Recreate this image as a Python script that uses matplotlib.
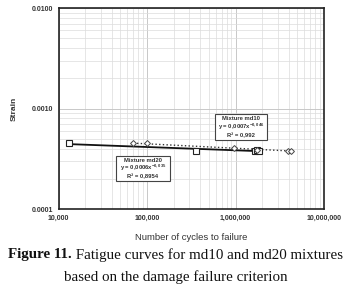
import numpy as np
import matplotlib
matplotlib.use("Agg")
import matplotlib.pyplot as plt
from matplotlib.patches import Rectangle
from matplotlib.ticker import FuncFormatter, LogLocator

plt.rcParams["font.family"] = ["Liberation Sans", "DejaVu Sans"]
plt.rcParams["mathtext.fontset"] = "custom"
plt.rcParams["mathtext.rm"] = "Liberation Sans:bold"
plt.rcParams["mathtext.it"] = "Liberation Sans:bold"
plt.rcParams["mathtext.bf"] = "Liberation Sans:bold"

# fatigue data
md10_cycles = [70000, 100000, 950000, 1750000, 3900000, 4200000]
md10_strain = [0.00045, 0.00045, 0.000405, 0.00039, 0.00038, 0.00038]
md20_cycles = [13000, 360000, 1650000, 1750000, 1850000]
md20_strain = [0.00045, 0.00038, 0.00038, 0.000385, 0.00038]

md10_lines = ["Mixture md10", "y = 0,0007x$^{\\mathrm{-0,046}}$", "R² = 0,992"]
md20_lines = ["Mixture md20", "y = 0,0006x$^{\\mathrm{-0,035}}$", "R² = 0,8954"]

txt = "#333333"

fig = plt.figure(figsize=(3.51, 2.90), dpi=100)
ax = fig.add_axes([0.167, 0.279, 0.756, 0.693])

ax.set_xscale("log")
ax.set_yscale("log")
ax.set_xlim(1e4, 1e7)
ax.set_ylim(1e-4, 1e-2)

ax.xaxis.set_major_locator(LogLocator(base=10))
ax.yaxis.set_major_locator(LogLocator(base=10))
ax.xaxis.set_minor_locator(LogLocator(base=10, subs=np.arange(2, 10)))
ax.yaxis.set_minor_locator(LogLocator(base=10, subs=np.arange(2, 10)))
ax.grid(True, which="major", color="#c8c8c8", linewidth=0.7)
ax.grid(True, which="minor", color="#dcdcdc", linewidth=0.5)
ax.set_axisbelow(True)

ax.xaxis.set_major_formatter(FuncFormatter(lambda v, p: f"{v:,.0f}"))
ax.yaxis.set_major_formatter(FuncFormatter(lambda v, p: f"{v:.4f}"))
ax.tick_params(which="both", length=0, labelsize=5, colors=txt, pad=4)
for lab in ax.get_xticklabels() + ax.get_yticklabels():
    lab.set_fontweight("bold")

for s in ax.spines.values():
    s.set_linewidth(1.2)
    s.set_color("#222222")

# power-law trendlines fitted in log space
def trend(cyc, strain):
    b, a = np.polyfit(np.log10(cyc), np.log10(strain), 1)
    xs = np.array([min(cyc), max(cyc)])
    return xs, 10 ** (a + b * np.log10(xs))

x20, y20 = trend(md20_cycles, md20_strain)
x10, y10 = trend(md10_cycles, md10_strain)
ax.plot(x20, y20, "-", color="#111111", linewidth=1.3)
ax.plot(x10, y10, ":", color="#333333", linewidth=1.0)

ax.plot(md20_cycles, md20_strain, "s", mfc="white", mec="#222222", ms=4, mew=0.8)
ax.plot(md10_cycles, md10_strain, "D", mfc="white", mec="#444444", ms=3, mew=0.7)


def label_box(lines, x0, y0, w, h):
    # box in axes fraction, three centred lines inside
    ax.add_patch(Rectangle((x0, y0), w, h, transform=ax.transAxes, fc="white",
                           ec="#444444", lw=0.8, zorder=4))
    for frac, s in zip([0.18, 0.48, 0.80], lines):
        ax.text(x0 + w / 2, y0 + h * (1 - frac), s, transform=ax.transAxes,
                ha="center", va="center", fontsize=4.2, color=txt,
                fontweight="bold", zorder=5)


label_box(md10_lines, 0.589, 0.342, 0.196, 0.132)
label_box(md20_lines, 0.218, 0.140, 0.200, 0.126)

ax.set_ylabel("Strain", fontsize=6, color=txt, fontweight="bold")
ax.yaxis.set_label_coords(-0.153, 0.5)
ax.set_xlabel("Number of cycles to failure", fontsize=6.8, color=txt)
ax.xaxis.set_label_coords(0.5, -0.119)

# caption: bold lead-in followed by regular text, centred as one line
serif = "Liberation Serif"
cap_y = 0.121
t1 = fig.text(0, cap_y, "Figure 11.", fontsize=10.8, family=serif, fontweight="bold",
              color="#111111", va="center")
t2 = fig.text(0, cap_y, " Fatigue curves for md10 and md20 mixtures", fontsize=10.8,
              family=serif, color="#111111", va="center")
fig.canvas.draw()
r = fig.canvas.get_renderer()
w1 = t1.get_window_extent(r).width / fig.bbox.width
w2 = t2.get_window_extent(r).width / fig.bbox.width
x0 = 0.5 - (w1 + w2) / 2
t1.set_x(x0)
t2.set_x(x0 + w1)
fig.text(0.5, 0.045, "based on the damage failure criterion",
         ha="center", va="center", fontsize=10.8, family=serif, color="#111111")

fig.savefig("out.png", dpi=100)
